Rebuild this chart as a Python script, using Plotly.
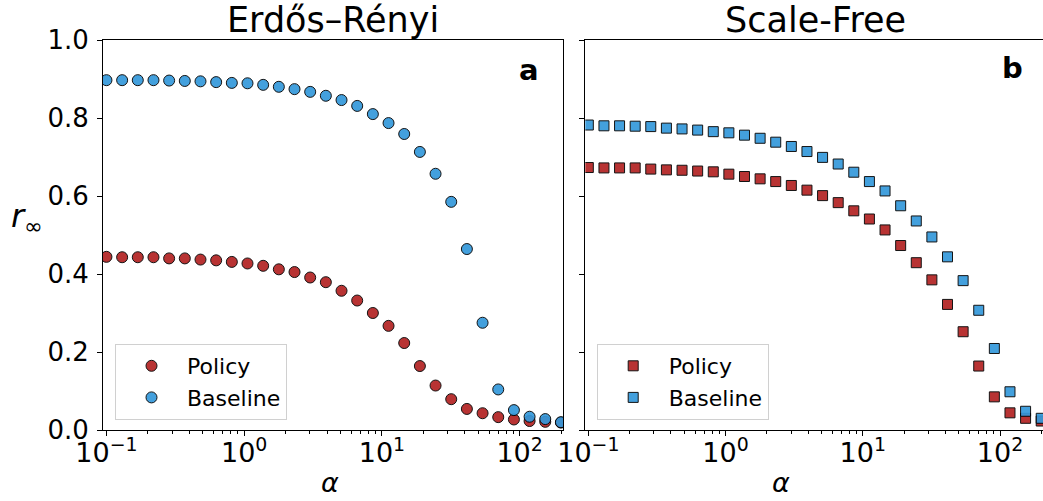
import plotly.graph_objects as go

alpha = [0.1, 0.1300, 0.1689, 0.2195, 0.2852, 0.3707, 0.4818, 0.6261, 0.8136, 1.0571,
         1.3738, 1.7853, 2.3201, 3.0151, 3.9182, 5.0918, 6.6170, 8.5990, 11.175, 14.522,
         18.872, 24.525, 31.871, 41.418, 53.824, 69.946, 90.897, 118.12, 153.50, 199.53]

er_policy = [0.444, 0.443, 0.443, 0.443, 0.440, 0.440, 0.437, 0.435, 0.431, 0.427,
             0.421, 0.412, 0.405, 0.391, 0.379, 0.357, 0.332, 0.300, 0.267, 0.223,
             0.164, 0.114, 0.079, 0.054, 0.043, 0.033, 0.027, 0.023, 0.021, 0.019]
er_baseline = [0.897, 0.897, 0.897, 0.897, 0.896, 0.895, 0.894, 0.892, 0.890, 0.889,
               0.885, 0.880, 0.874, 0.867, 0.857, 0.846, 0.831, 0.810, 0.787, 0.759,
               0.713, 0.657, 0.585, 0.464, 0.275, 0.104, 0.051, 0.034, 0.028, 0.020]
sf_policy = [0.673, 0.672, 0.672, 0.672, 0.669, 0.667, 0.666, 0.664, 0.662, 0.656,
             0.650, 0.644, 0.637, 0.627, 0.615, 0.601, 0.583, 0.562, 0.541, 0.513,
             0.473, 0.429, 0.385, 0.322, 0.252, 0.164, 0.085, 0.044, 0.030, 0.023]
sf_baseline = [0.782, 0.780, 0.780, 0.779, 0.778, 0.774, 0.772, 0.769, 0.765, 0.762,
               0.756, 0.748, 0.738, 0.727, 0.714, 0.699, 0.682, 0.661, 0.637, 0.613,
               0.575, 0.536, 0.495, 0.444, 0.383, 0.307, 0.209, 0.098, 0.048, 0.030]

x_tickvals = [0.1, 1, 10, 100]
x_ticktext = ["10<sup>\u22121</sup>", "10<sup>0</sup>", "10<sup>1</sup>", "10<sup>2</sup>"]
y_tickvals = [0.0, 0.2, 0.4, 0.6, 0.8, 1.0]
y_ticktext = ["0.0", "0.2", "0.4", "0.6", "0.8", "1.0"]
minor_vals = [m * 10 ** e for e in (-1, 0, 1, 2) for m in range(2, 10)]

RED = "#b22222"
BLUE = "#3498db"
FONT = "DejaVu Sans"

W, H = 1043, 501
ML, MR, MT, MB = 103, 0, 40, 71
PW = W - ML - MR
PH = H - MT - MB

def px_x(p):
    return (p - ML) / PW

def px_y(p):
    return (H - MB - p) / PH

fig = go.Figure()

def add(x, y, name, color, symbol, xa, ya, legend, group):
    fig.add_trace(go.Scatter(
        x=x, y=y, mode="markers", name=name, xaxis=xa, yaxis=ya,
        legend=legend, legendgroup=group,
        marker=dict(color=color, symbol=symbol, size=11 if symbol == "circle" else 10,
                    opacity=0.92, line=dict(color="black", width=1)),
    ))

add(alpha, er_policy, "Policy", RED, "circle", "x", "y", "legend", "a1")
add(alpha, er_baseline, "Baseline", BLUE, "circle", "x", "y", "legend", "a2")
add(alpha, sf_policy, "Policy", RED, "square", "x2", "y2", "legend2", "b1")
add(alpha, sf_baseline, "Baseline", BLUE, "square", "x2", "y2", "legend2", "b2")

left_dom = [0, 460 / PW]
right_dom = [px_x(585.3), 1]

common_x = dict(
    type="log", showline=True, linecolor="black", linewidth=1, mirror=True,
    ticks="outside", ticklen=5, tickwidth=1, tickcolor="black",
    tickvals=x_tickvals, ticktext=x_ticktext, showgrid=False, zeroline=False,
    tickfont=dict(family=FONT, size=27, color="black"), ticklabelstandoff=-6,
    minor=dict(ticks="outside", ticklen=3, tickwidth=1, tickcolor="black",
               tickvals=minor_vals, showgrid=False),
)

legend_common = dict(
    xanchor="left", yanchor="top", bordercolor="#d0d0d0", borderwidth=1,
    bgcolor="rgba(255,255,255,0.8)", font=dict(family=FONT, size=22, color="black"),
    tracegroupgap=0, itemwidth=61,
)

fig.update_layout(
    width=W, height=H,
    margin=dict(l=ML, r=MR, t=MT, b=MB),
    plot_bgcolor="white", paper_bgcolor="white",
    font=dict(family=FONT, color="black"),
    xaxis=dict(domain=left_dom, range=[-1.025, 2.315], anchor="y", **common_x),
    xaxis2=dict(domain=right_dom, range=[-1.022, 2.313], anchor="y2", **common_x),
    yaxis=dict(domain=[0, 1], range=[0, 1], anchor="x", showline=True, linecolor="black",
               linewidth=1, mirror=True, ticks="outside", ticklen=5, tickwidth=1,
               tickcolor="black", tickvals=y_tickvals, ticktext=y_ticktext,
               showgrid=False, zeroline=False, ticklabelstandoff=3,
               tickfont=dict(family=FONT, size=26, color="black")),
    yaxis2=dict(domain=[0, 1], range=[0, 1], anchor="x2", showline=True, linecolor="black",
                linewidth=1, mirror=False, ticks="outside", ticklen=5, tickwidth=1,
                tickcolor="black", tickvals=y_tickvals, showticklabels=False,
                showgrid=False, zeroline=False),
    legend=dict(x=px_x(115), y=px_y(344), **legend_common),
    legend2=dict(x=px_x(596.7), y=px_y(344), **legend_common),
    showlegend=True,
)

def note(text, x, y, size, pad=1):
    return dict(text=text, x=px_x(x), y=px_y(y), xref="paper", yref="paper",
                showarrow=False, xanchor="center", yanchor="middle", borderpad=pad,
                font=dict(family=FONT, size=size, color="black"))

ann = [
    note("Erdős–Rényi", 333, 20.5, 35, pad=0),
    note("Scale-Free", 815, 20.5, 35, pad=0),
    note("<b>a</b>", 529, 70, 29),
    note("<b>b</b>", 1012, 68, 29),
    note("<i>α</i>", 330, 482, 27),
    note("<i>α</i>", 781, 482, 27),
    note("<i>r</i><sub>∞</sub>", 27, 218, 32),
]
fig.update_layout(annotations=ann)

fig.write_html("out.html", config={"displayModeBar": False})

with open("out.html", "r", encoding="utf-8") as f:
    html = f.read()
html = html.replace("<head>", "<head><style>html,body{margin:0;padding:0;overflow:hidden;}</style>", 1)
with open("out.html", "w", encoding="utf-8") as f:
    f.write(html)
